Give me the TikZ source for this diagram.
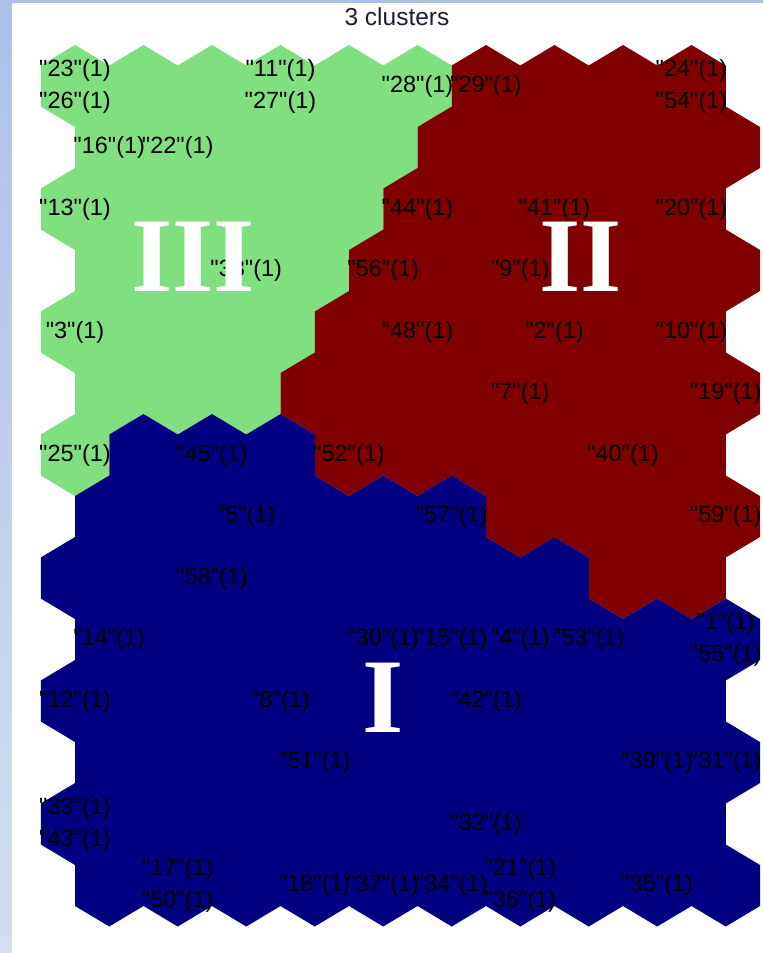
\documentclass[tikz,border=0pt]{standalone}
\usepackage{fontspec}
\setmainfont{Liberation Sans}[Ligatures=TeXOff]
\newfontfamily\romanfont{Liberation Serif}

\definecolor{somG}{RGB}{128,224,128}
\definecolor{somR}{RGB}{128,0,0}
\definecolor{somB}{RGB}{0,0,128}
\definecolor{frametop}{RGB}{172,192,232}
\definecolor{framebot}{RGB}{212,222,240}
\definecolor{titleink}{RGB}{30,30,52}

\begin{document}
\begin{tikzpicture}[x=1pt,y=-1pt,
    lab/.style={inner sep=0pt,align=center,font=\fontsize{23.5}{32}\selectfont},
    roman/.style={inner sep=0pt,text=white,font=\romanfont\bfseries\fontsize{106}{106}\selectfont}]
  \useasboundingbox (0,0) rectangle (763,953);
  \shade[top color=frametop,bottom color=framebot] (0,0) rectangle (12,953);
  \fill[frametop] (12,0) rectangle (763,3);
  \fill[white] (12,3) rectangle (763,953);
  \node[inner sep=0pt,text=titleink,font=\fontsize{24.5}{28}\selectfont] (title) at (397,17) {3 clusters};
  % map cells of the 10x14 grid: row/first column/last column of each cluster
  \foreach \k/\cells in {
      G/{0/0/5,1/0/4,2/0/4,3/0/3,4/0/3,5/0/2,6/0/0},
      R/{0/6/9,1/5/9,2/5/9,3/4/9,4/4/9,5/3/9,6/4/9,7/6/9,8/8/9},
      B/{6/1/3,7/0/5,8/0/7,9/0/9,10/0/9,11/0/9,12/0/9,13/0/9}} {
    \fill[som\k] \foreach \r/\a/\b in \cells { \foreach \c in {\a,...,\b} {
        ({75+68.5*\c+34.25*mod(\r,2)},{86+61.5*\r}) +(0,-41) -- +(34.25,-20.5) -- +(34.25,20.5)
        -- +(0,41) -- +(-34.25,20.5) -- +(-34.25,-20.5) -- cycle } };
  }
  % sample labels
  \foreach \r/\c/\t in {
      0/0/{"23"(1)\\"26"(1)}, 0/3/{"11"(1)\\"27"(1)}, 0/5/{"28"(1)}, 0/6/{"29"(1)},
      0/9/{"24"(1)\\"54"(1)}, 1/0/{"16"(1)}, 1/1/{"22"(1)},
      2/0/{"13"(1)}, 2/5/{"44"(1)}, 2/7/{"41"(1)}, 2/9/{"20"(1)},
      3/2/{"38"(1)}, 3/4/{"56"(1)}, 3/6/{"9"(1)},
      4/0/{"3"(1)}, 4/5/{"48"(1)}, 4/7/{"2"(1)}, 4/9/{"10"(1)},
      5/6/{"7"(1)}, 5/9/{"19"(1)},
      6/0/{"25"(1)}, 6/2/{"45"(1)}, 6/4/{"52"(1)}, 6/8/{"40"(1)},
      7/2/{"5"(1)}, 7/5/{"57"(1)}, 7/9/{"59"(1)},
      8/2/{"58"(1)},
      9/0/{"14"(1)}, 9/4/{"30"(1)}, 9/5/{"15"(1)}, 9/6/{"4"(1)}, 9/7/{"53"(1)},
      9/9/{"1"(1)\\"55"(1)},
      10/0/{"12"(1)}, 10/3/{"8"(1)}, 10/6/{"42"(1)},
      11/3/{"51"(1)}, 11/8/{"39"(1)}, 11/9/{"31"(1)},
      12/0/{"33"(1)\\"43"(1)}, 12/6/{"32"(1)},
      13/1/{"17"(1)\\"50"(1)}, 13/3/{"18"(1)}, 13/4/{"37"(1)}, 13/5/{"34"(1)},
      13/6/{"21"(1)\\"36"(1)}, 13/8/{"35"(1)}} {
    \pgfmathsetmacro\hx{75+68.5*\c+34.25*mod(\r,2)}
    \pgfmathsetmacro\hy{86+61.5*\r}
    \node[lab] (lab-\r-\c) at (\hx,\hy) {\t};
  }
  % cluster numbers
  \node[roman] (clIII) at (193,257) {III};
  \node[roman] (clII) at (581,257) {II};
  \node[roman] (clI) at (383,698) {I};
\end{tikzpicture}
\end{document}
